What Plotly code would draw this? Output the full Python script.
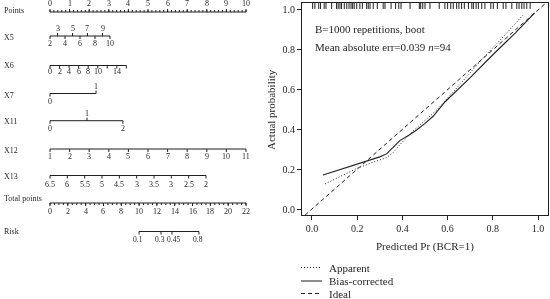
import plotly.graph_objects as go

FONT = "Liberation Serif"
INK = "#231f20"

# ---------------- Nomogram data (values and their point positions) ----------------
points_vals = [0, 1, 2, 3, 4, 5, 6, 7, 8, 9, 10]

x5_vals = ["2", "3", "4", "5", "6", "7", "8", "9", "10"]
x5_pts = [0, 0.383, 0.765, 1.148, 1.531, 1.913, 2.296, 2.679, 3.061]
x5_side = ["down", "up", "down", "up", "down", "up", "down", "up", "down"]

x6_vals = ["0", "2", "4", "6", "8", "10", "", "14", ""]
x6_pts = [0, 0.487, 0.974, 1.461, 1.948, 2.435, 2.922, 3.409, 3.896]

x7_vals = ["0", "1"]
x7_pts = [0, 2.35]
x7_side = ["down", "up"]

x11_vals = ["0", "1", "2"]
x11_pts = [0, 1.89, 3.72]
x11_side = ["down", "up", "down"]

x12_vals = ["1", "2", "3", "4", "5", "6", "7", "8", "9", "10", "11"]
x12_pts = [0, 1, 2, 3, 4, 5, 6, 7, 8, 9, 10]

x13_vals = ["6.5", "6", "5.5", "5", "4.5", "3", "3.5", "3", "2.5", "2"]
x13_pts = [0, 0.884, 1.769, 2.653, 3.538, 4.422, 5.306, 6.191, 7.075, 7.959]

total_vals = [0, 2, 4, 6, 8, 10, 12, 14, 16, 18, 20, 22]
total_max = 22

risk_vals = ["0.1", "0.3", "0.45", "0.8"]
risk_total = [10.0, 12.46, 13.69, 16.72]

# ---------------- Calibration data ----------------
pred_rug = [0.003, 0.013, 0.030, 0.038, 0.054, 0.062, 0.087, 0.109, 0.116, 0.124,
            0.131, 0.143, 0.154, 0.164, 0.173, 0.180, 0.187, 0.198, 0.212, 0.223,
            0.242, 0.249, 0.257, 0.271, 0.289, 0.315, 0.323, 0.350, 0.370, 0.384,
            0.394, 0.434, 0.475, 0.481, 0.490, 0.500, 0.522, 0.563, 0.588, 0.600,
            0.614, 0.625, 0.640, 0.650, 0.662, 0.674, 0.692, 0.707, 0.714, 0.726,
            0.736, 0.751, 0.765, 0.791, 0.802, 0.820, 0.846, 0.858, 0.884, 0.906,
            0.916, 0.928, 0.938, 0.950, 0.965]

apparent_x = [0.058, 0.12, 0.198, 0.27, 0.33, 0.36, 0.39, 0.45, 0.50, 0.552, 0.65, 0.75, 0.85, 0.934]
apparent_y = [0.126, 0.16, 0.204, 0.235, 0.258, 0.285, 0.325, 0.395, 0.445, 0.497, 0.62, 0.75, 0.87, 0.975]

bias_x = [0.049, 0.235, 0.30, 0.33, 0.36, 0.39, 0.43, 0.463, 0.50, 0.536, 0.589, 0.70, 0.80, 0.90, 0.985]
bias_y = [0.171, 0.238, 0.262, 0.277, 0.31, 0.345, 0.372, 0.397, 0.43, 0.466, 0.539, 0.66, 0.775, 0.885, 0.985]

ideal_x = [-0.1, 1.1]
ideal_y = [-0.1, 1.1]

fig = go.Figure()

# ---------------- Left panel: nomogram (x2/y2: x in points, y in pixels) ----------------
TICK = 3
LAB_OFF = 7.5
PX = 19.6  # pixels per point on the left panel
annotations = []
seg_x, seg_y = [], []


def add_row(name, y, pts, labels, sides=None, label_y=None, minor=None, tick_up_all=False,
            label_above_all=False, size=8, lab_off=LAB_OFF, label_dx=None):
    seg_x.extend([min(pts), max(pts), None])
    seg_y.extend([y, y, None])
    if minor is not None:
        for m in minor:
            seg_x.extend([m, m, None])
            seg_y.extend([y, y - 2 if tick_up_all else y + 2, None])
    for i, (p, lab) in enumerate(zip(pts, labels)):
        side = sides[i] if sides else ("up" if tick_up_all else "down")
        dy = -TICK if side == "up" else TICK
        seg_x.extend([p, p, None])
        seg_y.extend([y, y + dy, None])
        if lab != "":
            ly = y - lab_off if side == "up" else y + lab_off
            if label_above_all:
                ly = y - 8.5
            dx = (label_dx[i] / PX) if label_dx else 0
            annotations.append(dict(x=p + dx, y=ly, xref="x2", yref="y2", text=lab,
                                    showarrow=False, font=dict(family=FONT, size=size, color=INK),
                                    xanchor="center", yanchor="middle"))
    annotations.append(dict(x=2 / 550, y=label_y if label_y is not None else y + 1,
                            xref="paper", yref="y2", text=name, showarrow=False,
                            font=dict(family=FONT, size=8, color=INK),
                            xanchor="left", yanchor="middle"))


pt_minor = [i * 0.2 for i in range(51)]
add_row("Points", 12, points_vals, [str(v) for v in points_vals], minor=pt_minor,
        tick_up_all=True, label_above_all=True, label_y=10)
add_row("X5", 36, x5_pts, x5_vals, sides=x5_side, label_y=37.5)
add_row("X6", 65.5, x6_pts, x6_vals, label_y=65.5, lab_off=6)
add_row("X7", 93.5, x7_pts, x7_vals, sides=x7_side, label_y=95)
add_row("X11", 120.7, x11_pts, x11_vals, sides=x11_side, label_y=121.5)
add_row("X12", 149, x12_pts, x12_vals, label_y=150)
add_row("X13", 175.5, x13_pts, x13_vals, label_y=176.5, lab_off=8.5)
tot_pts = [v * 10 / total_max for v in total_vals]
tot_minor = [i * 0.5 * 10 / total_max for i in range(45)]
add_row("Total points", 203, tot_pts, [str(v) for v in total_vals], minor=tot_minor,
        label_y=198, lab_off=8.5)
add_row("Risk", 231.5, [t * 10 / total_max for t in risk_total], risk_vals, label_y=231.5,
        size=7.5, label_dx=[-1, -1.5, 1.5, -1])

fig.add_trace(go.Scatter(x=seg_x, y=seg_y, mode="lines", xaxis="x2", yaxis="y2",
                         line=dict(color=INK, width=1), hoverinfo="skip", showlegend=False))

# ---------------- Right panel: calibration ----------------
rx, ry = [], []
for p in pred_rug:
    rx.extend([p, p, None])
    ry.extend([1.035, 1.005, None])
fig.add_trace(go.Scatter(x=rx, y=ry, mode="lines", line=dict(color=INK, width=1),
                         hoverinfo="skip", showlegend=False))
fig.add_trace(go.Scatter(x=ideal_x, y=ideal_y, mode="lines",
                         line=dict(color=INK, width=1, dash="4px,3px"), showlegend=False))
fig.add_trace(go.Scatter(x=apparent_x, y=apparent_y, mode="lines",
                         line=dict(color=INK, width=1, dash="1px,2px"), showlegend=False))
fig.add_trace(go.Scatter(x=bias_x, y=bias_y, mode="lines",
                         line=dict(color=INK, width=1.1), showlegend=False))

W, H = 550, 299
annotations += [
    dict(x=313 / W, y=1 - 29 / H, xref="paper", yref="paper", text="B=1000 repetitions, boot",
         showarrow=False, xanchor="left", yanchor="middle", font=dict(family=FONT, size=11, color=INK)),
    dict(x=313 / W, y=1 - 47 / H, xref="paper", yref="paper",
         text="Mean absolute err=0.039 <i>n</i>=94",
         showarrow=False, xanchor="left", yanchor="middle", font=dict(family=FONT, size=11, color=INK)),
    dict(x=425 / W, y=1 - 246 / H, xref="paper", yref="paper", text="Predicted Pr (BCR=1)",
         showarrow=False, xanchor="center", yanchor="middle", font=dict(family=FONT, size=11, color=INK)),
    dict(x=271 / W, y=1 - 110 / H, xref="paper", yref="paper", text="Actual probability",
         textangle=-90, showarrow=False, xanchor="center", yanchor="middle",
         font=dict(family=FONT, size=11, color=INK)),
]

legend_items = [("Apparent", "1px,2px", 267.5), ("Bias-corrected", "solid", 281), ("Ideal", "4px,3px", 293.5)]
shapes = []
for name, dash, ly in legend_items:
    shapes.append(dict(type="line", xref="paper", yref="paper", x0=301 / W, x1=322 / W,
                       y0=1 - ly / H, y1=1 - ly / H, line=dict(color=INK, width=1, dash=dash)))
    annotations.append(dict(x=327 / W, y=1 - ly / H, xref="paper", yref="paper", text=name,
                            showarrow=False, xanchor="left", yanchor="middle",
                            font=dict(family=FONT, size=11, color=INK)))

ticks = [0, 0.2, 0.4, 0.6, 0.8, 1.0]
tick_text = ["0.0", "0.2", "0.4", "0.6", "0.8", "1.0"]

fig.update_layout(
    width=W, height=H, margin=dict(l=0, r=0, t=0, b=0),
    paper_bgcolor="white", plot_bgcolor="white", showlegend=False, hovermode=False,
    xaxis=dict(domain=[302 / W, 548 / W], range=[-0.044, 1.044], tickvals=ticks, ticktext=tick_text,
               ticks="outside", ticklen=4, tickcolor=INK, showline=True, mirror=True, linecolor=INK,
               linewidth=1, showgrid=False, zeroline=False, anchor="y",
               tickfont=dict(family=FONT, size=10, color=INK)),
    yaxis=dict(domain=[1 - 215 / H, 1 - 3 / H], range=[-0.03, 1.035], tickvals=ticks, ticktext=tick_text,
               ticks="outside", ticklen=4, tickcolor=INK, showline=True, mirror=True, linecolor=INK,
               linewidth=1, showgrid=False, zeroline=False, anchor="x",
               tickfont=dict(family=FONT, size=10, color=INK)),
    xaxis2=dict(domain=[0, 280 / W], range=[(0 - 50) / PX, (280 - 50) / PX], visible=False,
                anchor="y2"),
    yaxis2=dict(domain=[0, 1], range=[H, 0], visible=False, anchor="x2"),
    annotations=annotations, shapes=shapes,
)

fig.write_html("out.html", config={"displayModeBar": False, "staticPlot": True},
               post_script="document.body.style.margin='0px';document.body.style.overflow='hidden';"
                           "document.body.style.filter='grayscale(100%)';")
